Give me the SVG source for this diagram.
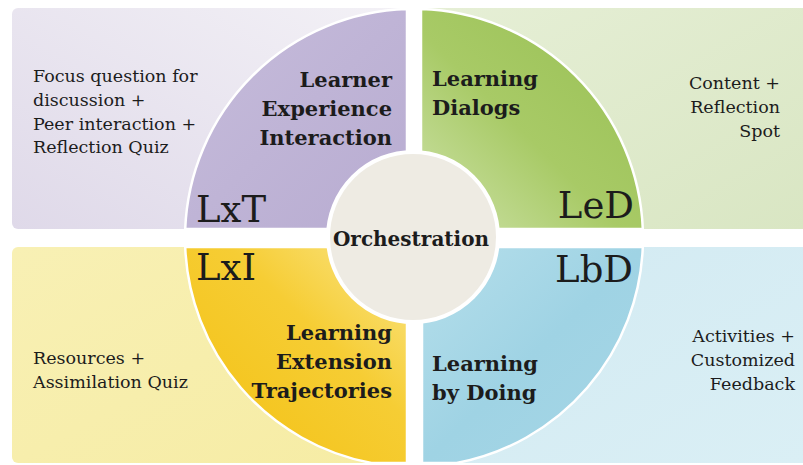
<svg xmlns="http://www.w3.org/2000/svg" width="803" height="465" viewBox="0 0 803 465">
<defs>
<linearGradient id="gTLp" x1="0" y1="1" x2="1" y2="0"><stop offset="0" stop-color="#dfd9e9"/><stop offset="1" stop-color="#f3f1f6"/></linearGradient>
<linearGradient id="gTLq" x1="0" y1="0" x2="1" y2="1"><stop offset="0" stop-color="#c6bcdb"/><stop offset="1" stop-color="#b8acd1"/></linearGradient>
<linearGradient id="gTRp" x1="0" y1="0" x2="1" y2="1"><stop offset="0" stop-color="#e6efd6"/><stop offset="1" stop-color="#d9e6c3"/></linearGradient>
<linearGradient id="gTRq" x1="1" y1="0" x2="0" y2="1"><stop offset="0" stop-color="#98c054"/><stop offset="0.55" stop-color="#a8ca66"/><stop offset="1" stop-color="#cfe3ab"/></linearGradient>
<linearGradient id="gBLp" x1="0" y1="0" x2="1" y2="1"><stop offset="0" stop-color="#f8f0b4"/><stop offset="1" stop-color="#f6eca4"/></linearGradient>
<linearGradient id="gBLq" x1="0" y1="1" x2="1" y2="0"><stop offset="0" stop-color="#f3c010"/><stop offset="0.6" stop-color="#f6cd34"/><stop offset="1" stop-color="#fae68a"/></linearGradient>
<linearGradient id="gBRp" x1="0" y1="0" x2="1" y2="1"><stop offset="0" stop-color="#d2eaf2"/><stop offset="1" stop-color="#daeff5"/></linearGradient>
<linearGradient id="gBRq" x1="0" y1="0" x2="1" y2="1"><stop offset="0" stop-color="#b6dfeb"/><stop offset="0.5" stop-color="#9fd3e4"/><stop offset="1" stop-color="#a6d6e6"/></linearGradient>
</defs>
<style>
.arc{stroke:#ffffff;stroke-width:2.5}
.t{font-family:"DejaVu Serif","Liberation Serif",serif;fill:#1c1c1c}
.body{font-size:17.5px}
.title{font-size:21px;font-weight:bold}
.big{font-size:37px}
.end{text-anchor:end}
</style>
<g id="panel-LxT">
<rect x="12" y="8" width="395" height="221" rx="6" fill="url(#gTLp)"/>
<path class="arc" d="M407,229 L185.2,229 A229,229 0 0 1 407,9.1 Z" fill="url(#gTLq)"/>
<text class="t body" x="33" y="82">Focus question for</text>
<text class="t body" x="33" y="106">discussion +</text>
<text class="t body" x="33" y="130">Peer interaction +</text>
<text class="t body" x="33" y="153">Reflection Quiz</text>
<text class="t title end" x="392" y="87">Learner</text>
<text class="t title end" x="392" y="116">Experience</text>
<text class="t title end" x="392" y="145">Interaction</text>
<text class="t big" x="196" y="222">LxT</text>
</g>
<g id="panel-LeD">
<rect x="421" y="8" width="382" height="221" fill="url(#gTRp)"/>
<path class="arc" d="M421,229 L642.8,229 A229,229 0 0 0 421,9.1 Z" fill="url(#gTRq)"/>
<text class="t title" x="432" y="86">Learning</text>
<text class="t title" x="432" y="115">Dialogs</text>
<text class="t body end" x="780" y="89">Content +</text>
<text class="t body end" x="780" y="113">Reflection</text>
<text class="t body end" x="780" y="137">Spot</text>
<text class="t big end" x="634" y="218">LeD</text>
</g>
<g id="panel-LxI">
<rect x="12" y="247" width="395" height="216" rx="6" fill="url(#gBLp)"/>
<path class="arc" d="M407,247 L185.2,247 A229,229 0 0 0 371.4,463 L407,463 Z" fill="url(#gBLq)"/>
<text class="t body" x="33" y="364">Resources +</text>
<text class="t body" x="33" y="388">Assimilation Quiz</text>
<text class="t title end" x="392" y="340">Learning</text>
<text class="t title end" x="392" y="369">Extension</text>
<text class="t title end" x="392" y="398">Trajectories</text>
<text class="t big" x="196" y="280">LxI</text>
</g>
<g id="panel-LbD">
<rect x="422" y="247" width="381" height="216" fill="url(#gBRp)"/>
<path class="arc" d="M422,247 L642.8,247 A229,229 0 0 1 456.6,463 L422,463 Z" fill="url(#gBRq)"/>
<text class="t title" x="432" y="371">Learning</text>
<text class="t title" x="432" y="400">by Doing</text>
<text class="t body end" x="795" y="342">Activities +</text>
<text class="t body end" x="795" y="366">Customized</text>
<text class="t body end" x="795" y="390">Feedback</text>
<text class="t big end" x="633" y="282">LbD</text>
</g>
<g id="orchestration">
<circle cx="413" cy="237" r="85" fill="#eeebe3" stroke="#ffffff" stroke-width="4"/>
<text class="t" x="411" y="246" text-anchor="middle" font-size="20" font-weight="bold">Orchestration</text>
</g>
<g id="connectors"/>
</svg>
